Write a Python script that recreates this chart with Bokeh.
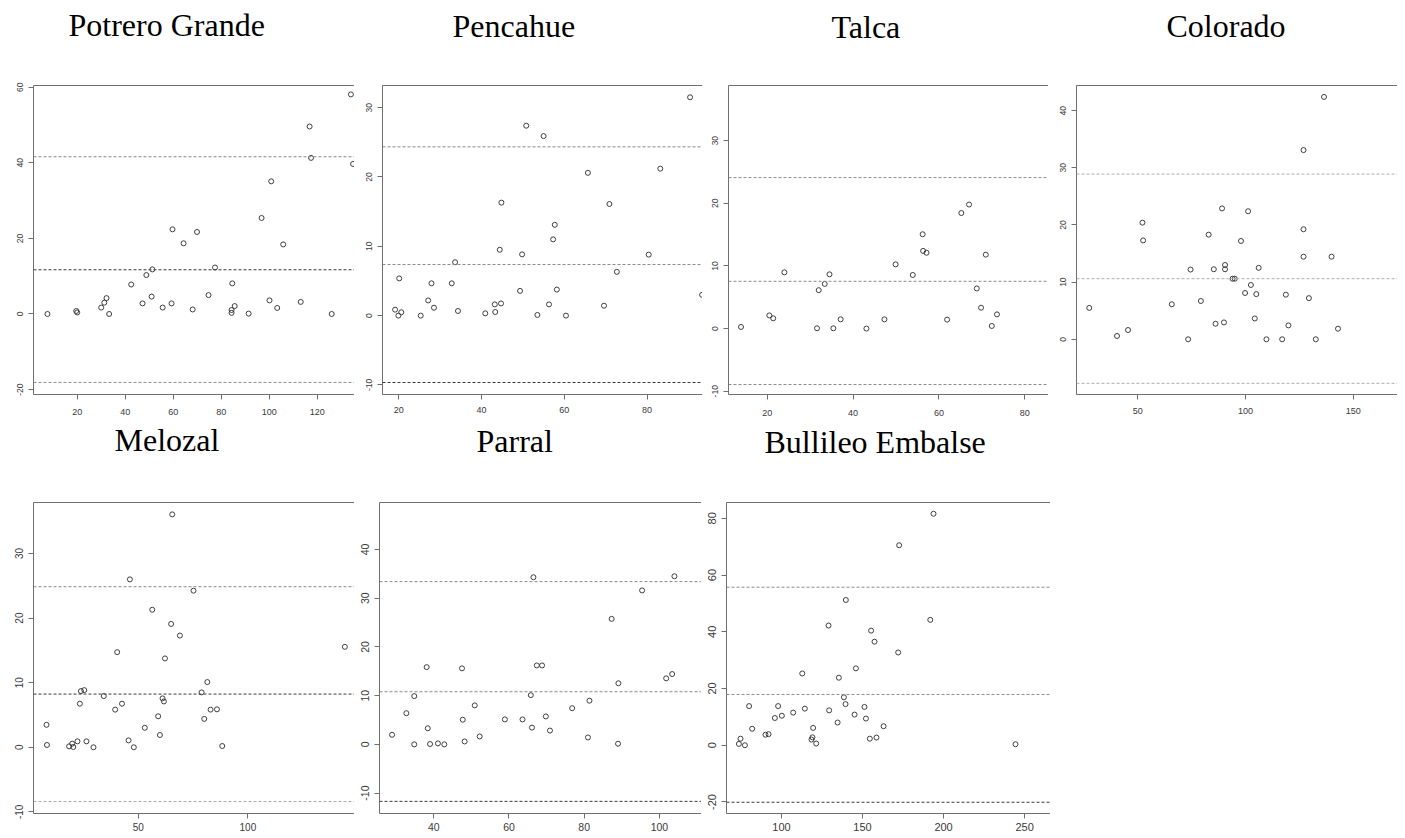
from bokeh.plotting import figure
from bokeh.layouts import column, row
from bokeh.models import LinearAxis, FixedTicker, Span, Range1d, Title
from bokeh.embed import file_html
from bokeh.resources import INLINE

# ---------------- data ----------------
stations = ["Potrero Grande", "Pencahue", "Talca", "Colorado",
            "Melozal", "Parral", "Bullileo Embalse"]

potrero_x = [7.6, 19.6, 20.0, 30.0, 31.3, 32.2, 33.3, 42.5, 47.2, 48.8, 51.0, 51.3,
             55.6, 59.3, 59.7, 64.3, 68.1, 69.9, 74.7, 77.4, 84.3, 84.3, 84.6, 85.6,
             91.4, 96.8, 100.1, 100.8, 103.3, 105.8, 113.1, 116.8, 117.4, 126.0, 134.0, 134.9]
potrero_y = [0, 0.8, 0.4, 1.7, 3.0, 4.2, 0, 7.8, 2.8, 10.3, 4.6, 11.8,
             1.7, 2.8, 22.4, 18.7, 1.2, 21.7, 5.0, 12.3, 1.05, 0.3, 8.1, 2.1,
             0.1, 25.4, 3.6, 35.1, 1.6, 18.4, 3.2, 49.6, 41.3, 0, 58.1, 39.7]

pencahue_x = [19.1, 19.9, 20.1, 20.6, 25.3, 27.1, 27.9, 28.5, 32.8, 33.6, 34.3, 40.9,
              43.2, 43.3, 44.4, 44.7, 44.8, 49.3, 49.8, 50.8, 53.5, 55.0, 56.3, 57.3,
              57.7, 58.2, 60.4, 65.7, 69.6, 70.9, 72.7, 80.4, 83.2, 90.4, 93.3]
pencahue_y = [0.86, 0, 5.37, 0.48, 0, 2.19, 4.66, 1.14, 4.66, 7.7, 0.67, 0.33,
              1.62, 0.52, 9.5, 1.76, 16.3, 3.57, 8.84, 27.4, 0.1, 25.9, 1.62, 11.0,
              13.1, 3.76, 0, 20.6, 1.43, 16.1, 6.32, 8.8, 21.2, 31.5, 3.0]

talca_x = [13.9, 20.5, 21.4, 24.0, 31.6, 32.0, 33.4, 34.5, 35.4, 37.1, 43.1, 47.3,
           49.9, 53.9, 56.2, 56.3, 57.1, 61.9, 65.2, 67.0, 68.8, 69.8, 70.9, 72.3, 73.5]
talca_y = [0.26, 2.1, 1.64, 8.98, 0.05, 6.13, 7.13, 8.66, 0.05, 1.48, 0, 1.48,
           10.25, 8.56, 15.06, 12.4, 12.1, 1.43, 18.44, 19.8, 6.4, 3.33, 11.8, 0.42, 2.27]

colorado_x = [27.5, 40.4, 45.5, 52.2, 52.5, 65.8, 73.4, 74.5, 79.3, 82.9, 85.3, 86.1,
              89.1, 90.0, 90.5, 90.5, 94.0, 95.0, 97.9, 99.8, 101.2, 102.5, 104.3, 105.0,
              106.1, 109.7, 117.0, 118.7, 119.9, 126.9, 126.9, 126.9, 129.4, 132.6, 136.4,
              139.9, 142.9]
colorado_y = [5.49, 0.58, 1.62, 20.4, 17.3, 6.13, 0, 12.2, 6.7, 18.3, 12.25, 2.72,
              22.9, 2.95, 13.0, 12.25, 10.6, 10.6, 17.2, 8.1, 22.4, 9.5, 3.64, 7.9,
              12.5, 0, 0, 7.8, 2.43, 33.1, 19.25, 14.45, 7.2, 0, 42.4, 14.45, 1.85]

melozal_x = [8.2, 8.4, 18.5, 19.9, 20.4, 22.3, 23.4, 23.9, 25.4, 26.4, 29.6, 34.3,
             39.5, 40.4, 42.6, 45.6, 46.2, 48.0, 53.0, 56.4, 59.1, 59.9, 61.1, 61.7,
             62.2, 65.0, 65.5, 69.0, 75.2, 78.9, 80.1, 81.5, 83.0, 85.9, 88.3, 144.2]
melozal_y = [3.48, 0.36, 0.15, 0.56, 0.05, 0.92, 6.75, 8.7, 8.85, 0.92, 0, 7.93,
             5.83, 14.73, 6.75, 1.07, 26.0, 0, 3.02, 21.3, 4.8, 1.9, 7.57, 7.1,
             13.76, 19.1, 36.06, 17.3, 24.25, 8.5, 4.4, 10.1, 5.83, 5.88, 0.2, 15.55]

parral_x = [28.9, 32.7, 34.8, 34.8, 38.1, 38.4, 39.0, 41.1, 42.8, 47.5, 47.7, 48.2,
            50.9, 52.2, 58.9, 63.6, 65.8, 66.1, 66.5, 67.4, 68.8, 69.8, 70.9, 76.8,
            81.0, 81.4, 87.3, 89.0, 89.1, 95.4, 101.8, 103.4, 104.0]
parral_y = [1.96, 6.4, 9.9, 0, 15.85, 3.3, 0.07, 0.2, 0, 15.6, 5.06, 0.6,
            8.0, 1.62, 5.12, 5.12, 10.1, 3.44, 34.3, 16.2, 16.2, 5.73, 2.83, 7.42,
            1.42, 8.97, 25.76, 0.13, 12.54, 31.6, 13.55, 14.43, 34.5]

bullileo_x = [73.7, 74.7, 77.4, 80.0, 81.9, 90.1, 92.0, 95.9, 97.9, 100.2, 107.2, 112.8,
              114.4, 118.5, 119.1, 119.5, 121.4, 129.0, 129.4, 134.6, 135.4, 138.5, 139.5,
              139.7, 145.1, 145.9, 151.2, 152.1, 154.5, 155.3, 157.4, 158.6, 163.0, 172.0,
              172.6, 191.8, 193.8, 244.4]
bullileo_y = [0.46, 2.3, 0, 13.8, 5.8, 3.7, 3.9, 9.6, 13.8, 10.4, 11.5, 25.3,
              12.9, 2.0, 2.8, 6.1, 0.6, 42.2, 12.3, 8.0, 23.8, 16.9, 14.5,
              51.2, 10.8, 27.1, 13.5, 9.4, 2.3, 40.4, 36.5, 2.7, 6.7, 32.7,
              70.5, 44.2, 81.6, 0.35]

# limits of agreement: upper, mean, lower
upper_loa = [41.6, 24.35, 24.1, 28.9, 24.86, 33.4, 55.7]
mean_diff = [11.7, 7.37, 7.55, 10.6, 8.24, 10.8, 17.9]
lower_loa = [-18.1, -9.65, -8.93, -7.7, -8.39, -11.7, -20.1]

x_ticks = [[20, 40, 60, 80, 100, 120], [20, 40, 60, 80], [20, 40, 60, 80], [50, 100, 150],
           [50, 100], [40, 60, 80, 100], [100, 150, 200, 250]]
y_ticks = [[-20, 0, 20, 40, 60], [-10, 0, 10, 20, 30], [-10, 0, 10, 20, 30], [0, 10, 20, 30, 40],
           [-10, 0, 10, 20, 30], [-10, 0, 10, 20, 30, 40], [-20, 0, 20, 40, 60, 80]]

xs_all = [potrero_x, pencahue_x, talca_x, colorado_x, melozal_x, parral_x, bullileo_x]
ys_all = [potrero_y, pencahue_y, talca_y, colorado_y, melozal_y, parral_y, bullileo_y]

# ---------------- layout / style ----------------
x_lims = [(1.8, 135.5), (16.06, 93.4), (10.99, 85.5), (21.6, 170.5),
          (2.26, 148.6), (25.56, 111.2), (66.05, 266.0)]
y_lims = [(-21.3, 60.45), (-11.38, 33.2), (-10.52, 38.8), (-9.66, 44.4),
          (-10.25, 37.9), (-14.19, 49.64), (-24.07, 85.57)]
widths = [354, 348, 346, 349, 354, 347, 349]
heights = [420, 420, 420, 420, 417, 417, 417]
b_left = [33, 28, 26, 28, 33, 25, 25]
b_top = [85, 84, 83, 84, 82, 81, 80]
b_bottom = [25, 23, 26, 24, 24, 21, 22]
x_standoff = [9, 7, 10, 8, 4, 4, 4]
title_gap = [48, 47, 46, 47, 50, 49, 48]
title_off = [35, 70, 103, 90, 81, 97, 38]
lab_size = ["9px", "9px", "9px", "9px", "10px", "10.5px", "11px"]
line_cols = [("#8a8a8a", "#3a3a3a", "#8a8a8a"), ("#8a8a8a", "#8a8a8a", "#3a3a3a"),
             ("#8a8a8a", "#8a8a8a", "#8a8a8a"), ("#adadad", "#adadad", "#adadad"),
             ("#8a8a8a", "#3a3a3a", "#adadad"), ("#8a8a8a", "#8a8a8a", "#3a3a3a"),
             ("#8a8a8a", "#8a8a8a", "#3a3a3a")]
BOX = "#6f6f6f"
TXT = "#3a3a3a"


def make_panel(i):
    top_row = i < 4
    p = figure(width=widths[i], height=heights[i],
               x_range=Range1d(*x_lims[i]), y_range=Range1d(*y_lims[i]),
               output_backend="svg", toolbar_location=None,
               min_border_left=b_left[i], min_border_right=0,
               min_border_top=b_top[i], min_border_bottom=b_bottom[i],
               title=None)
    p.outline_line_color = None
    p.grid.visible = False
    p.background_fill_color = "white"
    p.border_fill_color = "white"

    xa = p.xaxis[0]
    xa.ticker = FixedTicker(ticks=x_ticks[i])
    xa.major_tick_out = 5
    xa.major_tick_in = 0
    xa.minor_tick_line_color = None
    xa.major_tick_line_color = BOX
    xa.axis_line_color = BOX
    xa.major_label_standoff = x_standoff[i]
    xa.major_label_text_font = "Liberation Sans"
    xa.major_label_text_font_size = lab_size[i]
    xa.major_label_text_color = TXT

    ya = p.yaxis[0]
    ya.ticker = FixedTicker(ticks=y_ticks[i])
    ya.major_tick_out = 5
    ya.major_tick_in = 0
    ya.minor_tick_line_color = None
    ya.major_tick_line_color = BOX
    ya.axis_line_color = BOX
    ya.major_label_standoff = 5
    ya.major_label_orientation = "vertical"
    ya.major_label_text_font = "Liberation Sans"
    ya.major_label_text_font_size = "8.5px" if top_row else lab_size[i]
    ya.major_label_text_color = TXT
    ya.major_label_overrides = {v: ("-" + str(-v)) for v in y_ticks[i] if v < 0}

    # top border of the box (no ticks)
    top_axis = LinearAxis(ticker=FixedTicker(ticks=[]), major_tick_out=0,
                          major_tick_in=0, major_tick_line_color=None,
                          minor_tick_line_color=None, major_label_standoff=0,
                          major_label_text_font_size="0px", axis_line_color=BOX)
    p.add_layout(top_axis, "above")

    # empty gap between the box and the station name
    gap = Title(text=" ", text_font_size="1px", standoff=title_gap[i],
                text_color="white")
    p.add_layout(gap, "above")

    # station name (outer panel above the box)
    t = Title(text=stations[i], align="left", offset=title_off[i],
              vertical_align="top", standoff=-20,
              text_font="Liberation Serif", text_font_style="normal",
              text_font_size="32px", text_color="black")
    p.add_layout(t, "above")

    for val, col in zip((upper_loa[i], mean_diff[i], lower_loa[i]), line_cols[i]):
        p.add_layout(Span(location=val, dimension="width", line_color=col,
                          line_dash="3 2", line_width=1))

    p.scatter(xs_all[i], ys_all[i], marker="circle", size=5, fill_color=None,
              line_color="#2b2b2b", line_width=0.9)
    return p


panels = [make_panel(i) for i in range(7)]
layout = column(row(*panels[:4]), row(*panels[4:]))

open("out.html", "w").write(file_html(layout, INLINE))
